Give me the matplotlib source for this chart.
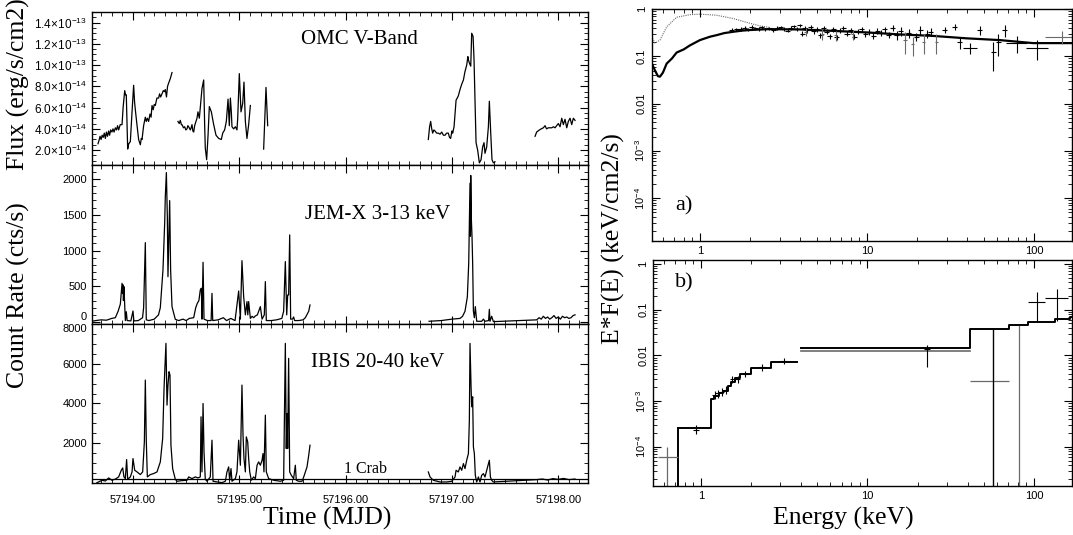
"""INTEGRAL light curves and broad-band spectra"""

import numpy as np
import matplotlib
matplotlib.use("Agg")
import matplotlib.pyplot as plt
from matplotlib.ticker import MultipleLocator, FixedLocator, LogLocator, FuncFormatter, NullFormatter

plt.rcParams['font.family'] = ['Liberation Serif', 'DejaVu Serif']
plt.rcParams['mathtext.fontset'] = 'custom'
plt.rcParams['mathtext.rm'] = 'Liberation Sans'
plt.rcParams['mathtext.it'] = 'Liberation Sans'

nan = np.nan

# ---- OMC V-band flux, (MJD, flux in 1e-14 erg/s/cm2)
omc_seg1 = [(57193.671, 2.6), (57193.680, 2.9), (57193.690, 3.3), (57193.700, 3.0), (57193.710, 3.4),
            (57193.720, 3.2), (57193.730, 3.6), (57193.740, 3.1), (57193.750, 3.7), (57193.760, 3.3),
            (57193.771, 3.8), (57193.780, 3.4), (57193.790, 3.9), (57193.802, 3.7), (57193.812, 4.0),
            (57193.822, 3.7), (57193.834, 4.1), (57193.845, 3.9), (57193.855, 4.3), (57193.865, 3.9),
            (57193.880, 4.4), (57193.897, 4.4), (57193.907, 6.0), (57193.922, 7.6), (57193.930, 7.2),
            (57193.937, 7.2), (57193.950, 2.1), (57193.960, 2.6), (57193.975, 2.8), (57193.991, 5.6),
            (57194.006, 8.1), (57194.015, 6.5), (57194.022, 5.8), (57194.035, 4.6), (57194.053, 3.0),
            (57194.069, 2.5), (57194.078, 3.1), (57194.085, 3.0), (57194.100, 4.3), (57194.116, 5.1),
            (57194.125, 4.7), (57194.135, 5.0), (57194.147, 4.7), (57194.160, 5.4), (57194.170, 5.1),
            (57194.179, 6.2), (57194.190, 5.8), (57194.200, 6.3), (57194.210, 6.2), (57194.225, 6.9),
            (57194.241, 6.9), (57194.250, 7.3), (57194.260, 7.0), (57194.273, 7.3), (57194.285, 7.6),
            (57194.295, 7.5), (57194.304, 7.7), (57194.315, 7.0), (57194.325, 8.0), (57194.335, 8.3),
            (57194.350, 8.7), (57194.367, 9.3)]
omc_seg2 = [(57194.423, 4.7), (57194.435, 4.5), (57194.445, 4.8), (57194.455, 4.4), (57194.461, 4.4),
            (57194.475, 4.1), (57194.486, 4.2), (57194.497, 3.9), (57194.508, 4.0), (57194.516, 4.3),
            (57194.524, 4.2), (57194.539, 3.9), (57194.547, 4.1), (57194.555, 4.4), (57194.563, 3.8),
            (57194.571, 3.7), (57194.580, 4.3), (57194.586, 4.5), (57194.602, 5.0), (57194.611, 5.6),
            (57194.624, 5.0), (57194.649, 7.8), (57194.665, 8.6), (57194.674, 4.4), (57194.680, 2.2),
            (57194.693, 1.1), (57194.706, 3.4), (57194.718, 6.1), (57194.737, 5.6), (57194.759, 4.4),
            (57194.781, 3.4), (57194.806, 3.1), (57194.831, 3.0), (57194.844, 3.6), (57194.862, 3.9),
            (57194.878, 4.7), (57194.894, 6.8), (57194.906, 4.3), (57194.916, 6.9), (57194.925, 5.6),
            (57194.931, 4.2), (57194.947, 4.0), (57194.963, 4.2), (57194.978, 3.9), (57194.985, 5.0),
            (57195.000, 9.2), (57195.016, 5.6), (57195.032, 6.4), (57195.044, 8.4), (57195.057, 4.7),
            (57195.072, 3.1), (57195.088, 4.4), (57195.104, 6.2)]
omc_seg3 = [(57195.229, 2.1), (57195.251, 7.9), (57195.267, 4.3)]
omc_seg4 = [(57196.778, 3.0), (57196.790, 4.2), (57196.800, 4.7), (57196.810, 4.0), (57196.819, 3.6),
            (57196.830, 3.9), (57196.841, 3.8), (57196.856, 3.6), (57196.872, 3.6), (57196.888, 3.5),
            (57196.904, 3.7), (57196.920, 3.4), (57196.935, 3.4), (57196.950, 3.6), (57196.966, 3.6),
            (57196.977, 3.2), (57196.988, 3.1), (57197.000, 3.8), (57197.007, 3.6), (57197.020, 4.2),
            (57197.039, 6.7), (57197.050, 6.9), (57197.060, 7.1), (57197.076, 7.7), (57197.092, 8.2),
            (57197.108, 8.6), (57197.123, 9.4), (57197.139, 10.0), (57197.150, 10.8), (57197.155, 10.5),
            (57197.164, 10.2), (57197.177, 9.9), (57197.186, 13.0), (57197.199, 12.7), (57197.208, 10.5),
            (57197.217, 6.7), (57197.227, 2.7), (57197.242, 2.0), (57197.258, 0.8), (57197.274, 1.1),
            (57197.289, 2.3), (57197.302, 2.7), (57197.311, 1.7), (57197.327, 2.3), (57197.343, 4.2),
            (57197.352, 6.6), (57197.365, 3.6), (57197.377, 1.1), (57197.390, 0.8), (57197.405, 0.9)]
omc_seg5 = [(57197.782, 3.3), (57197.797, 3.7), (57197.810, 3.8), (57197.823, 3.9), (57197.840, 4.0),
            (57197.860, 4.1), (57197.876, 4.3), (57197.890, 4.0), (57197.907, 4.1), (57197.922, 4.1),
            (57197.939, 4.1), (57197.955, 4.2), (57197.970, 4.1), (57197.985, 4.3), (57198.001, 4.5),
            (57198.017, 4.2), (57198.033, 5.0), (57198.048, 4.4), (57198.064, 4.9), (57198.080, 4.1),
            (57198.095, 4.7), (57198.111, 5.0), (57198.127, 4.4), (57198.142, 5.0), (57198.158, 4.8)]

# ---- JEM-X 3-13 keV count rate (MJD, cts/s); nan = data gap
jemx = [(57193.614, 10), (57193.65, 20), (57193.70, 30), (57193.75, 25), (57193.80, 50), (57193.834, 60),
        (57193.86, 150), (57193.881, 250), (57193.897, 541), (57193.902, 400), (57193.906, 520),
        (57193.910, 300), (57193.915, 494), (57193.928, 20), (57193.937, 144), (57193.945, 20),
        (57193.98, 15), (57194.000, 154), (57194.008, 15), (57194.05, 20), (57194.09, 60), (57194.100, 200),
        (57194.116, 1110), (57194.125, 30), (57194.15, 20), (57194.20, 40), (57194.24, 100), (57194.257, 200),
        (57194.282, 728), (57194.298, 1381), (57194.304, 1754), (57194.314, 2090), (57194.323, 1475),
        (57194.329, 634), (57194.336, 1092), (57194.345, 1698), (57194.354, 728), (57194.367, 215),
        (57194.398, 37), (57194.43, 20), (57194.47, 40), (57194.50, 20), (57194.53, 50), (57194.571, 60),
        (57194.59, 200), (57194.605, 261), (57194.62, 300), (57194.633, 448), (57194.643, 472),
        (57194.649, 40), (57194.659, 835), (57194.668, 40), (57194.70, 20), (57194.735, 20), (57194.743, 401),
        (57194.75, 20), (57194.80, 30), (57194.85, 60), (57194.88, 20), (57194.92, 50), (57194.96, 20),
        (57194.994, 434), (57195.010, 40), (57195.025, 858), (57195.041, 355), (57195.057, 100),
        (57195.072, 285), (57195.080, 100), (57195.088, 285), (57195.104, 50), (57195.12, 80),
        (57195.135, 60), (57195.151, 84), (57195.17, 100), (57195.198, 215), (57195.214, 40),
        (57195.235, 100), (57195.245, 565), (57195.254, 20), (57195.30, 20), (57195.35, 30), (57195.40, 50),
        (57195.417, 150), (57195.433, 845), (57195.446, 100), (57195.455, 378), (57195.464, 378),
        (57195.474, 1218), (57195.483, 40), (57195.50, 40), (57195.511, 70), (57195.52, 20), (57195.558, 20),
        (57195.60, 30), (57195.621, 60), (57195.653, 150), (57195.665, 238), (nan, nan),
        (57196.785, 10), (57196.85, 15), (57196.90, 20), (57196.951, 30), (57197.00, 40), (57197.076, 50),
        (57197.10, 80), (57197.123, 150), (57197.145, 350), (57197.158, 825), (57197.170, 1941),
        (57197.174, 1200), (57197.177, 2050), (57197.183, 1428), (57197.189, 1195), (57197.195, 825),
        (57197.202, 150), (57197.211, 60), (57197.220, 215), (57197.233, 10), (57197.280, 10),
        (57197.296, 40), (57197.311, 10), (57197.345, 20), (57197.352, 177), (57197.358, 10),
        (57197.374, 80), (57197.390, 5), (57197.797, 30), (57197.82, 60), (57197.84, 40), (57197.86, 80),
        (57197.88, 50), (57197.90, 70), (57197.92, 40), (57197.94, 60), (57197.96, 90), (57197.98, 50),
        (57198.00, 70), (57198.02, 40), (57198.04, 80), (57198.06, 60), (57198.08, 70), (57198.10, 50),
        (57198.12, 60), (57198.14, 90), (57198.158, 100)]

# ---- IBIS 20-40 keV count rate (MJD, cts/s)
ibis = [(57193.661, 20), (57193.677, 54), (57193.708, 138), (57193.740, 100), (57193.771, 256),
        (57193.802, 138), (57193.835, 200), (57193.865, 306), (57193.890, 642), (57193.903, 760),
        (57193.915, 306), (57193.928, 222), (57193.940, 1180), (57193.950, 188), (57193.975, 306),
        (57193.991, 558), (57194.000, 1230), (57194.016, 642), (57194.038, 558), (57194.069, 424),
        (57194.091, 558), (57194.107, 2070), (57194.116, 5178), (57194.125, 2154), (57194.135, 306),
        (57194.163, 424), (57194.194, 474), (57194.226, 558), (57194.257, 1062), (57194.279, 2238),
        (57194.292, 4758), (57194.301, 5934), (57194.310, 7026), (57194.320, 3918), (57194.329, 4926),
        (57194.339, 5598), (57194.348, 5430), (57194.357, 1902), (57194.373, 726), (57194.398, 188),
        (57194.414, 88), (57194.461, 120), (57194.508, 138), (57194.524, 306), (57194.555, 222),
        (57194.586, 306), (57194.611, 256), (57194.633, 306), (57194.640, 3330), (57194.649, 558),
        (57194.659, 4002), (57194.668, 1566), (57194.680, 188), (57194.696, 88), (57194.727, 306),
        (57194.743, 2154), (57194.753, 88), (57194.790, 54), (57194.837, 20), (57194.869, 88),
        (57194.884, 558), (57194.900, 810), (57194.909, 138), (57194.922, 726), (57194.931, 88),
        (57194.963, 222), (57194.978, 558), (57194.994, 2154), (57195.010, 894), (57195.025, 4926),
        (57195.035, 2406), (57195.044, 1230), (57195.057, 558), (57195.066, 2322), (57195.079, 2070),
        (57195.088, 1230), (57195.098, 558), (57195.113, 138), (57195.135, 306), (57195.151, 222),
        (57195.167, 894), (57195.182, 1062), (57195.198, 894), (57195.214, 1146), (57195.223, 1482),
        (57195.232, 558), (57195.245, 3414), (57195.254, 558), (57195.276, 222), (57195.323, 138),
        (57195.386, 88), (57195.417, 138), (57195.433, 7026), (57195.442, 1734), (57195.449, 3498),
        (57195.455, 1734), (57195.464, 6270), (57195.474, 558), (57195.489, 390), (57195.511, 222),
        (57195.527, 894), (57195.536, 138), (57195.558, 88), (57195.590, 88), (57195.606, 306),
        (57195.637, 810), (57195.653, 1398), (57195.665, 1902), (nan, nan),
        (57196.778, 556), (57196.794, 304), (57196.825, 136), (57196.888, 52), (57196.951, 52),
        (57196.998, 86), (57197.029, 304), (57197.039, 640), (57197.060, 556), (57197.076, 808),
        (57197.092, 640), (57197.108, 976), (57197.123, 724), (57197.139, 1144), (57197.155, 1480),
        (57197.164, 3160), (57197.170, 7024), (57197.180, 4840), (57197.186, 3832), (57197.195, 4336),
        (57197.202, 1816), (57197.211, 1480), (57197.220, 388), (57197.233, 52), (57197.249, 304),
        (57197.264, 52), (57197.280, 388), (57197.296, 472), (57197.311, 304), (57197.327, 640),
        (57197.343, 976), (57197.352, 1144), (57197.362, 304), (57197.374, 136), (57197.390, 52),
        (57197.797, 170), (57197.85, 200), (57197.90, 150), (57197.95, 220), (57198.00, 180),
        (57198.05, 230), (57198.10, 170), (57198.158, 200)]
crab_rate = 200  # 1 Crab in IBIS 20-40 keV

# ---- spectrum a) : model curves (keV, keV/cm2/s)
a_mod_E = [0.52, 0.538, 0.56, 0.576, 0.60, 0.632, 0.68, 0.725, 0.80, 0.871, 1.0, 1.15, 1.258, 1.4, 1.58,
           1.8, 2.0, 2.51, 3.97, 6.29, 9.96, 15.8, 24.9, 39.5, 62.6, 99.0, 172.0]
a_mod_F = [0.065, 0.050, 0.038, 0.037, 0.045, 0.070, 0.09, 0.12, 0.14, 0.17, 0.22, 0.26, 0.28, 0.31, 0.33,
           0.35, 0.36, 0.375, 0.37, 0.345, 0.32, 0.29, 0.27, 0.24, 0.22, 0.19, 0.19]
a_unabs_E = [0.52, 0.538, 0.576, 0.632, 0.725, 0.871, 1.0, 1.258, 1.58, 1.99, 2.29, 2.6]
a_unabs_F = [0.24, 0.19, 0.22, 0.42, 0.67, 0.76, 0.78, 0.74, 0.63, 0.50, 0.44, 0.41]

# spectrum a) data: energy, flux, relative flux error, half bin width (dex)
a_E = [1.55, 1.65, 1.75, 1.85, 1.95, 2.05, 2.15, 2.25, 2.35, 2.45, 2.6, 2.75, 2.9, 3.05, 3.2, 3.35, 3.5,
       3.65, 3.8, 3.95, 4.1, 4.25, 4.4, 4.6, 4.8, 5.0, 5.25, 5.5, 5.75, 6.0, 6.3, 6.6, 6.9, 7.2, 7.6,
       8.0, 8.4, 8.8, 9.3, 9.8, 10.3, 10.9, 11.5, 12.1, 12.8, 13.5, 14.3, 15.1, 16.0, 17.8, 19.8, 20.8,
       23.0, 24.2, 29.3, 33.6, 36.1, 41.4, 47.5, 57.1, 61.1, 67.0, 78.7, 104.0]
a_F = [0.36, 0.37, 0.38, 0.40, 0.37, 0.42, 0.39, 0.38, 0.41, 0.37, 0.39, 0.36, 0.40, 0.41, 0.38, 0.35, 0.40,
       0.43, 0.38, 0.45, 0.30, 0.40, 0.36, 0.42, 0.34, 0.38, 0.28, 0.39, 0.33, 0.27, 0.37, 0.25, 0.35, 0.40,
       0.30, 0.36, 0.26, 0.34, 0.38, 0.29, 0.33, 0.27, 0.35, 0.31, 0.37, 0.28, 0.40, 0.28, 0.34, 0.31, 0.26,
       0.36, 0.30, 0.33, 0.36, 0.42, 0.20, 0.15, 0.36, 0.124, 0.20, 0.36, 0.195, 0.15]
a_dF = [0.08] * 20 + [0.12] * 20 + [0.15] * 7 + [0.2] * 7 + [0.15, 0.15, 0.3, 0.25, 0.2, 0.6, 0.5, 0.3, 0.4, 0.45]
a_dE = [0.015] * 57 + [0.04, 0.015, 0.015, 0.015, 0.015, 0.06, 0.065]
a2_E = [4.3, 5.4, 6.5, 8.2, 16.9, 18.8, 21.9, 26.1, 146.5]
a2_F = [0.33, 0.30, 0.28, 0.29, 0.22, 0.18, 0.20, 0.20, 0.26]
a2_dF = [0.2, 0.25, 0.25, 0.25, 0.5, 0.45, 0.45, 0.45, 0.3]
a2_dE = [0.01, 0.01, 0.01, 0.01, 0.01, 0.01, 0.01, 0.01, 0.1]

# ---- spectrum b) : step model (bin edges, level)
b_edges1 = [0.725, 1.148, 1.20, 1.28, 1.36, 1.45, 1.52, 1.60, 1.72, 1.99, 2.62, 3.79]
b_lev1 = [2.6e-4, 1.1e-3, 1.3e-3, 1.5e-3, 1.65e-3, 2.1e-3, 2.6e-3, 3.2e-3, 4.0e-3, 5.2e-3, 7.3e-3]
b_edges2 = [3.97, 41.4, 71.2, 92.5, 133.6, 164.0, 172.0]
b_lev2 = [0.0148, 0.038, 0.046, 0.055, 0.062, 0.0706]
b_gray_edges = [3.97, 41.4]
b_gray_lev = [0.0128]

# spectrum b) data: E, F, E low, E high, F low, F high
b_E = [0.94, 1.21, 1.26, 1.33, 1.41, 1.53, 1.66, 1.85, 2.33, 3.16, 22.8, 104.0, 137.0]
b_F = [2.4e-4, 1.4e-3, 1.5e-3, 1.6e-3, 1.75e-3, 3.0e-3, 3.0e-3, 3.9e-3, 5.5e-3, 7.5e-3, 0.0136, 0.145, 0.178]
b_Elo = [0.90, 1.17, 1.22, 1.29, 1.37, 1.49, 1.61, 1.79, 2.22, 3.0, 22.0, 92.5, 117.0]
b_Ehi = [0.98, 1.25, 1.30, 1.37, 1.45, 1.57, 1.71, 1.91, 2.45, 3.3, 23.6, 117.0, 160.0]
b_Flo = [1.9e-4, 1.1e-3, 1.2e-3, 1.3e-3, 1.45e-3, 2.5e-3, 2.5e-3, 3.3e-3, 4.6e-3, 6.4e-3, 5.7e-3, 0.058, 0.058]
b_Fhi = [3.0e-4, 1.7e-3, 1.8e-3, 1.9e-3, 2.1e-3, 3.6e-3, 3.6e-3, 4.6e-3, 6.4e-3, 8.6e-3, 0.017, 0.25, 0.29]
b2_E = [0.623, 57.0]
b2_F = [5.9e-5, 2.8e-3]
b2_Elo = [0.55, 41.4]
b2_Ehi = [0.725, 71.2]
b2_Fhi = [1.0e-4, 0.038]
b_ul_E = [57.0, 81.7]
b_ul_top = [0.038, 0.045]
b_ul_col = ['black', 'dimgray']

# ---------------------------------------------------------------- figure
fig = plt.figure(figsize=(10.73, 5.35), dpi=100)
ax1 = fig.add_axes([0.0857, 0.6916, 0.4623, 0.2860])
ax2 = fig.add_axes([0.0857, 0.3944, 0.4623, 0.2972])
ax3 = fig.add_axes([0.0857, 0.0972, 0.4623, 0.2972])
axa = fig.add_axes([0.6076, 0.5495, 0.3914, 0.4336])
axb = fig.add_axes([0.6086, 0.0916, 0.3904, 0.4224])

lw = 0.9
tick_font = 'Liberation Sans'
lab_size = 18.5

for ax in [ax1, ax2, ax3, axa, axb]:
    ax.tick_params(which='both', direction='in', top=True, right=True, labelsize=8,
                   labelfontfamily=tick_font)
    ax.tick_params(which='major', length=6, width=0.8)
    ax.tick_params(which='minor', length=3, width=0.6)
    for s in ax.spines.values():
        s.set_linewidth(1.0)

# light curves
for seg in [omc_seg1, omc_seg2, omc_seg3, omc_seg4, omc_seg5]:
    t, f = np.array(seg).T
    ax1.plot(t, f * 1e-14, color='black', lw=lw)
t, c = np.array(jemx).T
ax2.plot(t, c, color='black', lw=lw)
t, c = np.array(ibis).T
ax3.plot(t, c, color='black', lw=lw)
ax3.axhline(crab_rate, color='black', lw=lw)

for ax in [ax1, ax2, ax3]:
    ax.set_xlim(57193.614, 57198.28)
    ax.xaxis.set_major_locator(MultipleLocator(1.0))
    ax.xaxis.set_minor_locator(MultipleLocator(0.1))
    ax.xaxis.set_major_formatter(NullFormatter())
ax3.xaxis.set_major_formatter(FuncFormatter(lambda v, p: '%.2f' % v))
ax3.tick_params(axis='x', which='major', pad=9)

def sci_fmt(v, p):
    if v <= 0:
        return ''
    e = int(np.floor(np.log10(v) + 1e-9))
    m = v / 10.0 ** e
    return r'$%.1f\!\times\!10^{%d}$' % (m, e)

ax1.set_ylim(0.6e-14, 1.5e-13)
ax1.yaxis.set_major_locator(FixedLocator([2e-14, 4e-14, 6e-14, 8e-14, 1e-13, 1.2e-13, 1.4e-13]))
ax1.yaxis.set_minor_locator(MultipleLocator(0.5e-14))
ax1.yaxis.set_major_formatter(FuncFormatter(sci_fmt))
ax1.tick_params(axis='y', labelsize=8.5)

ax2.set_ylim(-28, 2196)
ax2.yaxis.set_major_locator(FixedLocator([0, 500, 1000, 1500, 2000]))
ax2.yaxis.set_minor_locator(MultipleLocator(100))

ax3.set_ylim(0, 8000)
ax3.yaxis.set_major_locator(FixedLocator([2000, 4000, 6000, 8000]))
ax3.yaxis.set_minor_locator(MultipleLocator(500))

# "0" of the JEM-X axis sits just above the "8000" of the IBIS axis
ax2.yaxis.get_major_ticks()[0].label1.set_va('bottom')
ax3.yaxis.get_major_ticks()[-1].label1.set_va('top')

ax1.text(0.54, 0.817, 'OMC V-Band', transform=ax1.transAxes, ha='center', va='center', fontsize=15)
ax2.text(0.575, 0.686, 'JEM-X 3-13 keV', transform=ax2.transAxes, ha='center', va='center', fontsize=15)
ax3.text(0.577, 0.755, 'IBIS 20-40 keV', transform=ax3.transAxes, ha='center', va='center', fontsize=15)
ax3.text(0.552, 0.085, '1 Crab', transform=ax3.transAxes, ha='center', va='center', fontsize=11.5)

fig.text(0.017, 0.843, 'Flux (erg/s/cm2)', rotation=90, ha='center', va='center', fontsize=lab_size)
fig.text(0.017, 0.449, 'Count Rate (cts/s)', rotation=90, ha='center', va='center', fontsize=lab_size)
fig.text(0.305, 0.031, 'Time (MJD)', ha='center', va='center', fontsize=lab_size)

# spectra
def log_fmt(v, p):
    e = int(round(np.log10(v)))
    if e >= 0:
        return '%d' % round(v)
    if e >= -2:
        return ('%.' + str(-e) + 'f') % v
    return r'$10^{%d}$' % e

for ax in [axa, axb]:
    ax.set_xscale('log')
    ax.set_yscale('log')
    ax.set_xlim(0.516, 169)
    ax.xaxis.set_major_formatter(FuncFormatter(lambda v, p: '%g' % v))
    ax.xaxis.set_minor_formatter(NullFormatter())
    ax.yaxis.set_major_locator(FixedLocator([1e-4, 1e-3, 1e-2, 0.1, 1]))
    ax.yaxis.set_minor_locator(LogLocator(base=10, subs=np.arange(2, 10), numticks=20))
    ax.yaxis.set_major_formatter(FuncFormatter(log_fmt))
    ax.yaxis.set_minor_formatter(NullFormatter())
    for lab in ax.get_yticklabels():
        lab.set_rotation(90)
        lab.set_va('center')
axa.set_ylim(1.23e-5, 1.0)
axb.set_ylim(1.4e-5, 1.22)

axa.plot(a_unabs_E, a_unabs_F, color='dimgray', lw=0.8, ls=(0, (1, 1)))
axa.plot(a_mod_E, a_mod_F, color='black', lw=1.6)
aE, aF = np.array(a_E), np.array(a_F)
adF, adE = np.array(a_dF), np.array(a_dE)
axa.errorbar(aE, aF, xerr=[aE - aE / 10 ** adE, aE * 10 ** adE - aE], yerr=[aF * adF, aF * adF],
             fmt='none', ecolor='black', elinewidth=0.8)
aE2, aF2 = np.array(a2_E), np.array(a2_F)
adF2, adE2 = np.array(a2_dF), np.array(a2_dE)
axa.errorbar(aE2, aF2, xerr=[aE2 - aE2 / 10 ** adE2, aE2 * 10 ** adE2 - aE2], yerr=[aF2 * adF2, aF2 * adF2],
             fmt='none', ecolor='dimgray', elinewidth=0.8)
axa.text(0.075, 0.15, 'a)', transform=axa.transAxes, ha='center', va='center', fontsize=16)

# b) steps
axb.step(b_edges1, b_lev1 + [b_lev1[-1]], where='post', color='black', lw=1.4)
axb.plot([b_edges1[0], b_edges1[0]], [1e-6, b_lev1[0]], color='black', lw=1.4)
axb.step(b_edges2, b_lev2 + [b_lev2[-1]], where='post', color='black', lw=1.4)
axb.step(b_gray_edges, b_gray_lev + [b_gray_lev[-1]], where='post', color='dimgray', lw=1.2)
bE, bF = np.array(b_E), np.array(b_F)
axb.errorbar(bE, bF, xerr=[bE - np.array(b_Elo), np.array(b_Ehi) - bE],
             yerr=[bF - np.array(b_Flo), np.array(b_Fhi) - bF], fmt='none', ecolor='black', elinewidth=0.8)
bE2, bF2 = np.array(b2_E), np.array(b2_F)
axb.errorbar(bE2, bF2, xerr=[bE2 - np.array(b2_Elo), np.array(b2_Ehi) - bE2],
             yerr=[bF2 - 1e-6, np.array(b2_Fhi) - bF2], fmt='none', ecolor='dimgray', elinewidth=0.9)
for e, top, col in zip(b_ul_E, b_ul_top, b_ul_col):
    axb.plot([e, e], [1e-6, top], color=col, lw=0.9)
axb.text(0.075, 0.9, 'b)', transform=axb.transAxes, ha='center', va='center', fontsize=16)

fig.text(0.572, 0.555, 'E*F(E) (keV/cm2/s)', rotation=90, ha='center', va='center', fontsize=lab_size)
fig.text(0.786, 0.031, 'Energy (keV)', ha='center', va='center', fontsize=lab_size)

fig.savefig('out.png', dpi=100)
